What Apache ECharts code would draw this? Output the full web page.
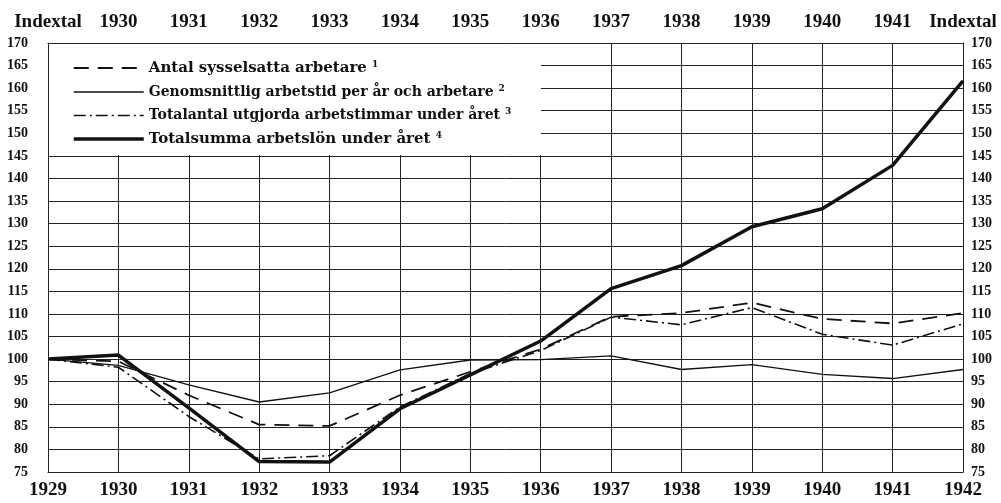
<!DOCTYPE html>
<html>
<head>
<meta charset="utf-8">
<script src="https://cdn.jsdelivr.net/npm/echarts@6/dist/echarts.min.js"></script>
<style>
  html, body { margin: 0; padding: 0; background: #fff; }
  #main { width: 1001px; height: 503px; }
</style>
</head>
<body>
<div id="main"></div>
<script>
// years on the bottom axis, labels of the top axis
var years = ['1929', '1930', '1931', '1932', '1933', '1934', '1935', '1936', '1937', '1938', '1939', '1940', '1941', '1942'];
var topLabels = ['Indextal', '1930', '1931', '1932', '1933', '1934', '1935', '1936', '1937', '1938', '1939', '1940', '1941', 'Indextal'];

// index values (1929 = 100)
var antal = [100, 99.5, 92.0, 85.5, 85.2, 92.0, 97.2, 102.2, 109.4, 110.2, 112.5, 108.9, 107.9, 110.2];
var genomsnitt = [100, 98.6, 94.3, 90.5, 92.5, 97.6, 99.8, 99.9, 100.7, 97.7, 98.8, 96.6, 95.7, 97.7];
var timmar = [100, 98.2, 87.3, 77.9, 78.6, 89.4, 96.8, 101.9, 109.3, 107.6, 111.4, 105.5, 103.1, 107.8];
var lonesumma = [100, 100.9, 89.2, 77.3, 77.2, 89.0, 96.5, 104.0, 115.6, 120.7, 129.3, 133.3, 142.9, 161.6];

var names = [
    'Antal sysselsatta arbetare',
    'Genomsnittlig arbetstid per år och arbetare',
    'Totalantal utgjorda arbetstimmar under året',
    'Totalsumma arbetslön under året'
];

var serif = '"Liberation Serif", "DejaVu Serif", serif';
var legendFont = '"DejaVu Serif", serif';
var ink = '#111';

var styles = [
    { width: 1.8, type: [15, 9] },
    { width: 1.3, type: 'solid' },
    { width: 1.6, type: [12, 4, 2, 4] },
    { width: 3.5, type: 'solid' }
];
// the first and last legend rows are set wider in the original
var legendSizes = [15, 14, 14, 15];

var chart = echarts.init(document.getElementById('main'));

var option = {
    backgroundColor: '#fff',
    animation: false,
    grid: { left: 48, right: 38, top: 43, bottom: 31 },
    graphic: [{
        type: 'rect',
        z: 5,
        shape: { x: 49, y: 44, width: 492, height: 111 },
        style: { fill: '#fff' }
    }],
    legend: {
        z: 6,
        orient: 'vertical',
        left: 72,
        top: 60,
        itemWidth: 70,
        itemHeight: 14,
        itemGap: 8.5,
        padding: 0,
        itemStyle: { opacity: 0 },
        data: names.map(function (n, i) {
            return {
                name: n,
                lineStyle: { color: ink, width: styles[i].width, type: styles[i].type, opacity: 1 },
                textStyle: { fontSize: legendSizes[i] }
            };
        }),
        formatter: function (name) {
            return name + ' {sup|' + (names.indexOf(name) + 1) + '}';
        },
        textStyle: {
            fontFamily: legendFont,
            fontWeight: 'bold',
            fontSize: 14,
            color: ink,
            rich: {
                sup: { fontSize: 9, fontWeight: 'bold', fontFamily: legendFont, padding: [0, 0, 7, 0] }
            }
        }
    },
    xAxis: [{
        type: 'category',
        data: years,
        boundaryGap: false,
        position: 'bottom',
        axisLine: { lineStyle: { color: '#222', width: 1 } },
        axisTick: { show: false },
        axisLabel: { interval: 0, margin: 9, color: ink, fontFamily: serif, fontWeight: 'bold', fontSize: 19 },
        splitLine: { show: true, interval: 0, lineStyle: { color: '#222', width: 1 } }
    }, {
        type: 'category',
        data: topLabels,
        boundaryGap: false,
        position: 'top',
        axisLine: { lineStyle: { color: '#222', width: 1 } },
        axisTick: { show: false },
        axisLabel: { interval: 0, margin: 11, color: ink, fontFamily: serif, fontWeight: 'bold', fontSize: 19 },
        splitLine: { show: false }
    }],
    yAxis: [{
        type: 'value',
        min: 75,
        max: 170,
        interval: 5,
        position: 'left',
        axisLine: { show: true, lineStyle: { color: '#222', width: 1 } },
        axisTick: { show: false },
        axisLabel: { margin: 20, color: ink, fontFamily: serif, fontWeight: 'bold', fontSize: 14 },
        splitLine: { show: true, lineStyle: { color: '#222', width: 1 } }
    }, {
        type: 'value',
        min: 75,
        max: 170,
        interval: 5,
        position: 'right',
        axisLine: { show: true, lineStyle: { color: '#222', width: 1 } },
        axisTick: { show: false },
        axisLabel: { margin: 8, color: ink, fontFamily: serif, fontWeight: 'bold', fontSize: 14 },
        splitLine: { show: false }
    }],
    series: [{
        name: names[0],
        type: 'line',
        data: antal,
        symbol: 'none',
        lineStyle: { color: ink, width: styles[0].width, type: styles[0].type },
        itemStyle: { color: ink }
    }, {
        name: names[1],
        type: 'line',
        data: genomsnitt,
        symbol: 'none',
        lineStyle: { color: ink, width: styles[1].width, type: styles[1].type },
        itemStyle: { color: ink }
    }, {
        name: names[2],
        type: 'line',
        data: timmar,
        symbol: 'none',
        lineStyle: { color: ink, width: styles[2].width, type: styles[2].type },
        itemStyle: { color: ink }
    }, {
        name: names[3],
        type: 'line',
        data: lonesumma,
        symbol: 'none',
        lineStyle: { color: ink, width: styles[3].width, type: styles[3].type },
        itemStyle: { color: ink }
    }]
};

chart.setOption(option);
</script>
</body>
</html>
